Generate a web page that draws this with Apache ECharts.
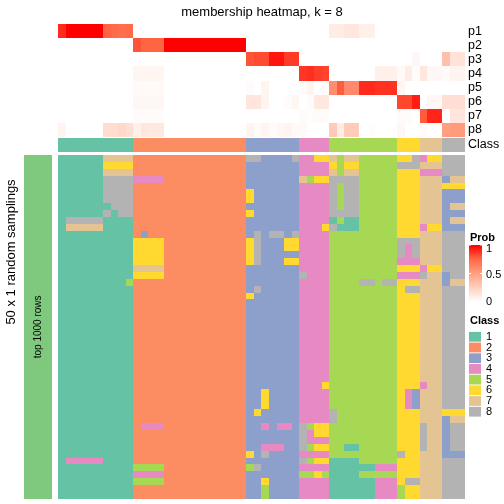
<!DOCTYPE html>
<html><head><meta charset="utf-8">
<script src="https://cdn.jsdelivr.net/npm/echarts@6/dist/echarts.min.js"></script>
<style>html,body{margin:0;padding:0;background:#fff}#c{width:504px;height:504px}</style>
</head><body><div id="c"></div>
<script>
// ---------- data ----------
const chartTitle = 'membership heatmap, k = 8';
const probLabels = ['p1','p2','p3','p4','p5','p6','p7','p8'];
//            class1 (10 cols)                 | class2 (15 cols)                    | class3 (7)                    | class4 (4)           | class5 (9)                                   | c6 (3)         | c7 (3)         | c8 (3)
const p1 = [0.9,1,1,1,1,1,0.76,0.74,0.72,0.74, 0,0,0,0,0,0,0,0,0,0,0,0,0,0,0, 0,0,0,0,0,0,0, 0,0,0,0, 0.1,0.1,0.13,0.13,0.08,0.08,0,0,0, 0,0,0, 0,0,0, 0,0,0];
const p2 = [0,0,0,0,0,0,0,0,0,0, 0.8,0.76,0.76,0.76,1,1,1,1,1,1,1,1,1,1,1, 0,0,0,0,0,0,0, 0,0,0,0, 0,0,0,0,0,0,0,0,0, 0,0,0, 0,0,0, 0,0,0];
const p3 = [0,0,0,0,0,0,0,0,0,0, 0,0,0,0,0,0,0,0,0,0,0,0,0,0,0, 0.8,0.82,0.82,0.95,0.95,0.86,0.86, 0,0,0,0, 0,0,0,0,0,0,0,0,0, 0,0,0.04, 0,0,0, 0.33,0.15,0.15];
const p4 = [0,0,0,0,0,0,0,0,0,0, 0.05,0.05,0.05,0.05,0,0,0,0,0,0,0,0,0,0,0, 0,0,0,0,0,0,0, 0.87,0.89,0.85,0.84, 0,0,0,0,0,0,0.08,0.08,0.08, 0.03,0.1,0.02, 0.13,0.04,0.04, 0.02,0.06,0.06];
const p5 = [0,0,0,0,0,0,0,0,0,0, 0.03,0.03,0.03,0.03,0,0,0,0,0,0,0,0,0,0,0, 0.02,0,0.06,0,0,0,0, 0.02,0.06,0,0.02, 0.58,0.78,0.6,0.6,0.9,0.9,0.88,0.88,0.88, 0.05,0,0, 0,0,0, 0,0,0];
const p6 = [0,0,0,0,0,0,0,0,0,0, 0.04,0.04,0.04,0.04,0,0,0,0,0,0,0,0,0,0,0, 0.14,0.14,0.06,0,0,0.02,0.05, 0,0.02,0.12,0.12, 0,0,0,0,0,0,0,0,0, 0.83,0.83,0.93, 0,0.04,0.04, 0.17,0.17,0.17];
const p7 = [0,0,0,0,0,0,0,0,0,0, 0.02,0.02,0.02,0.02,0,0,0,0,0,0,0,0,0,0,0, 0,0,0,0,0,0,0, 0.02,0.01,0.02,0.02, 0,0,0,0,0,0,0,0,0, 0.02,0.02,0, 0.78,0.91,0.91, 0,0.14,0.14];
const p8 = [0.06,0,0,0,0,0,0.18,0.18,0.21,0.17, 0.08,0.13,0.12,0.12,0,0,0,0,0,0,0,0,0,0,0, 0.06,0.02,0.06,0.02,0.04,0.06,0.03, 0.03,0,0,0, 0.28,0.1,0.27,0.27,0,0.01,0,0,0, 0.04,0,0, 0.02,0,0, 0.5,0.52,0.52];
const classByColumn = [1,1,1,1,1,1,1,1,1,1, 2,2,2,2,2,2,2,2,2,2,2,2,2,2,2, 3,3,3,3,3,3,3, 4,4,4,4, 5,5,5,5,5,5,5,5,5, 6,6,6, 7,7,7, 8,8,8];
const classNames = ['1','2','3','4','5','6','7','8'];
const classColors = ['#66C2A5','#FC8D62','#8DA0CB','#E78AC3','#A6D854','#FFD92F','#E5C494','#B3B3B3'];
const probTicks = [0, 0.5, 1];
const probColors = ['#FFFFFF','#FFD0BE','#FF9F82','#FF6846','#FF0000'];
const rowAnnotationLabel = 'top 1000 rows';
const rowTitle = '50 x 1 random samplings';
// class of each sample (column) in each of the 50 random samplings (rows)
const samplingRows = [
 '1111117777 222222222222222 8833338 4466 757755555 668 466 888',
 '1111116666 222222222222222 3333333 4444 656655555 888 777 888',
 '1111117777 222222222222222 3333333 4444 757755555 666 444 888',
 '1111118888 444422222222222 3333333 7566 888855555 666 777 377',
 '1111118888 222222222222222 3333333 4444 858855555 666 777 666',
 '1111118888 222222222222222 6333333 4444 858855555 666 777 333',
 '1111118888 222222222222222 6333333 4444 858855555 666 777 333',
 '1111111888 222222222222222 3333333 4444 858855555 666 777 377',
 '1111118188 222222222222222 6333333 4444 888855555 666 777 333',
 '1888881111 222222222222222 3333333 4444 151155555 666 777 377',
 '1777771111 222222222222222 3333333 4446 811155555 666 466 333',
 '1111111111 232222222222222 3838838 4444 555555555 666 777 888',
 '1111111111 666622222222222 6833366 4444 555555555 888 777 888',
 '1111111111 666622222222222 6833366 4444 555555555 848 777 888',
 '1111111111 666622222222222 6833333 4444 555555555 848 777 888',
 '1111111111 666622222222222 6833366 4444 555555555 444 777 888',
 '1111111111 777722222222222 3333333 4444 555555555 666 466 888',
 '1111111111 666622222222222 3333333 8444 555555555 444 877 388',
 '1111111115 222222222222222 3333333 4444 555588588 666 777 377',
 '1111111111 222222222222222 3833333 4444 555555555 688 777 888',
 '1111111111 222222222222222 6333333 4444 555555555 666 777 888',
 '1111111111 222222222222222 3333333 4444 555555555 666 777 888',
 '1111111111 222222222222222 3333333 4444 555555555 666 777 888',
 '1111111111 222222222222222 3333333 4444 555555555 666 777 888',
 '1111111111 222222222222222 3333333 4444 555555555 666 777 888',
 '1111111111 222222222222222 3333333 4444 555555555 666 777 888',
 '1111111111 222222222222222 3333333 4444 555555555 666 777 888',
 '1111111111 222222222222222 3333333 4444 555555555 666 777 888',
 '1111111111 222222222222222 3333333 4444 555555555 666 777 888',
 '1111111111 222222222222222 3333333 4444 555555555 666 777 888',
 '1111111111 222222222222222 3333333 4444 555555555 666 777 888',
 '1111111111 222222222222222 3333333 4444 555555555 666 777 888',
 '1111111111 222222222222222 3333333 4444 555555555 666 777 888',
 '1111111111 222222222222222 3333333 4446 555555555 666 477 888',
 '1111111111 222222222222222 3363333 4444 555555555 643 777 888',
 '1111111111 222222222222222 3363333 4444 555555555 643 777 888',
 '1111111111 222222222222222 3363333 4444 555555555 643 777 888',
 '1111111111 222222222222222 3633333 4444 855555555 666 777 666',
 '1111111111 222222222222222 3333333 4444 855555555 666 777 377',
 '1111111111 244422222222222 3343443 8566 555555555 666 877 388',
 '1111111111 222222222222222 3333333 8466 555555555 666 877 388',
 '1111111111 222222222222222 3333333 8444 555555555 666 877 388',
 '1111111111 222222222222222 3344433 8566 551155555 666 877 388',
 '1111111111 222222222222222 6383333 4444 555555555 866 777 333',
 '1444441111 222222222222222 3333333 8566 111155555 666 777 888',
 '1111111111 555522222222222 5833333 4444 111111444 666 777 888',
 '1111111111 444422222222222 3333333 5565 111155555 666 777 888',
 '1111111111 555522222222222 3363333 4444 111111444 688 777 888',
 '1111111111 222222222222222 3353333 4444 111111444 566 777 888',
 '1111111111 222222222222222 3353333 4444 111111444 566 777 888'
];

// ---------- build ----------
const FONT = 'Liberation Sans, Arial, sans-serif';
const probRows = [p1, p2, p3, p4, p5, p6, p7, p8];
const colIds = classByColumn.map((_, i) => 'c' + i);
const rowIds = samplingRows.map((_, i) => 'r' + i);
const probData = [];
probRows.forEach((row, r) => row.forEach((v, c) => probData.push([c, r, v])));
const classData = classByColumn.map((k, c) => [c, 0, k]);
const mainData = [];
samplingRows.forEach((s, r) => {
  const t = s.replace(/ /g, '');
  for (let c = 0; c < t.length; c++) mainData.push([c, r, Number(t[c])]);
});

const L = 58, GW = 407;
const mainTop = 155, mainH = 343.75;

// cell renderer: library coordinates, snapped to whole pixels so adjacent cells meet without seams
function cell(params, api) {
  const c = api.coord([api.value(0), api.value(1)]);
  const s = api.size([1, 1]);
  const x0 = Math.round(c[0] - s[0] / 2), x1 = Math.round(c[0] + s[0] / 2);
  const y0 = Math.round(c[1] - s[1] / 2), y1 = Math.round(c[1] + s[1] / 2);
  return {type: 'rect', shape: {x: x0, y: y0, width: x1 - x0, height: y1 - y0},
    style: {fill: api.visual('color')}};
}

const graphics = [];
graphics.push({type:'text', x:262, y:12, style:{text:chartTitle, font:'13px ' + FONT, fill:'#000', textAlign:'center', textVerticalAlign:'middle'}});
// left block annotation (row title of the single row slice)
graphics.push({type:'rect', shape:{x:24, y:mainTop, width:28, height:Math.round(mainH)}, style:{fill:'#7FC97F'}});
graphics.push({type:'text', x:38, y:mainTop + mainH/2, rotation:Math.PI/2, style:{text:rowAnnotationLabel, font:'10px ' + FONT, fill:'#000', textAlign:'center', textVerticalAlign:'middle'}});
// global row title, centred on the whole heatmap list height
graphics.push({type:'text', x:11, y:252, rotation:Math.PI/2, style:{text:rowTitle, font:'13px ' + FONT, fill:'#000', textAlign:'center', textVerticalAlign:'middle'}});
// Prob legend
const barX = 469, barW = 13, barTop = 245, barBot = 302;
graphics.push({type:'text', x:470, y:238, style:{text:'Prob', font:'bold 11px ' + FONT, fill:'#000', textVerticalAlign:'middle'}});
const stops = probColors.map((c, i) => ({offset: 1 - i/(probColors.length-1), color: c}));
stops.sort((a,b)=>a.offset-b.offset);
graphics.push({type:'rect', shape:{x:barX, y:barTop, width:barW, height:barBot-barTop},
  style:{fill:{type:'linear', x:0, y:0, x2:0, y2:1, colorStops:stops}}});
probTicks.forEach(v => {
  const y = barBot - v*(barBot-barTop);
  graphics.push({type:'line', shape:{x1:barX, y1:y, x2:barX+2, y2:y}, style:{stroke:'#fff', lineWidth:1}});
  graphics.push({type:'line', shape:{x1:barX+barW-2, y1:y, x2:barX+barW, y2:y}, style:{stroke:'#fff', lineWidth:1}});
  const ty = v === 1 ? y + 4 : (v === 0 ? y : y + 1);
  graphics.push({type:'text', x:486, y:ty, style:{text:String(v), font:'11px ' + FONT, fill:'#000', textVerticalAlign:'middle'}});
});
// Class legend
graphics.push({type:'text', x:470, y:321, style:{text:'Class', font:'bold 11px ' + FONT, fill:'#000', textVerticalAlign:'middle'}});
classNames.forEach((n, i) => {
  const cy = 336.8 + i*10.7;
  graphics.push({type:'rect', shape:{x:469, y:cy-4.9, width:12, height:9.8}, style:{fill:classColors[i]}});
  graphics.push({type:'text', x:486, y:cy, style:{text:n, font:'11px ' + FONT, fill:'#000', textVerticalAlign:'middle'}});
});

const hideAxis = {axisLine:{show:false}, axisTick:{show:false}, splitLine:{show:false}};
const option = {
  animation: false,
  backgroundColor: '#fff',
  grid: [
    {left:L, top:24, width:GW, height:113},
    {left:L, top:138, width:GW, height:14},
    {left:L, top:mainTop, width:GW, height:mainH}
  ],
  xAxis: [0,1,2].map(i => ({type:'category', gridIndex:i, data:colIds, show:false})),
  yAxis: [
    Object.assign({type:'category', gridIndex:0, data:probLabels, inverse:true, position:'right',
      axisLabel:{interval:0, fontSize:12.5, color:'#000', margin:3, fontFamily:FONT}}, hideAxis),
    Object.assign({type:'category', gridIndex:1, data:['Class'], position:'right',
      axisLabel:{interval:0, fontSize:12.5, color:'#000', margin:3, fontFamily:FONT}}, hideAxis),
    {type:'category', gridIndex:2, data:rowIds, inverse:true, show:false}
  ],
  visualMap: [
    {type:'continuous', min:0, max:1, dimension:2, seriesIndex:0, show:false, inRange:{color:probColors}},
    {type:'piecewise', dimension:2, seriesIndex:[1,2], show:false,
      pieces: classColors.map((c, i) => ({value:i+1, color:c}))}
  ],
  series: [
    {type:'custom', xAxisIndex:0, yAxisIndex:0, data:probData, renderItem:cell, encode:{x:0, y:1}, silent:true},
    {type:'custom', xAxisIndex:1, yAxisIndex:1, data:classData, renderItem:cell, encode:{x:0, y:1}, silent:true},
    {type:'custom', xAxisIndex:2, yAxisIndex:2, data:mainData, renderItem:cell, encode:{x:0, y:1}, silent:true}
  ],
  graphic: graphics
};
const chart = echarts.init(document.getElementById('c'));
chart.setOption(option);
</script>
</body></html>
